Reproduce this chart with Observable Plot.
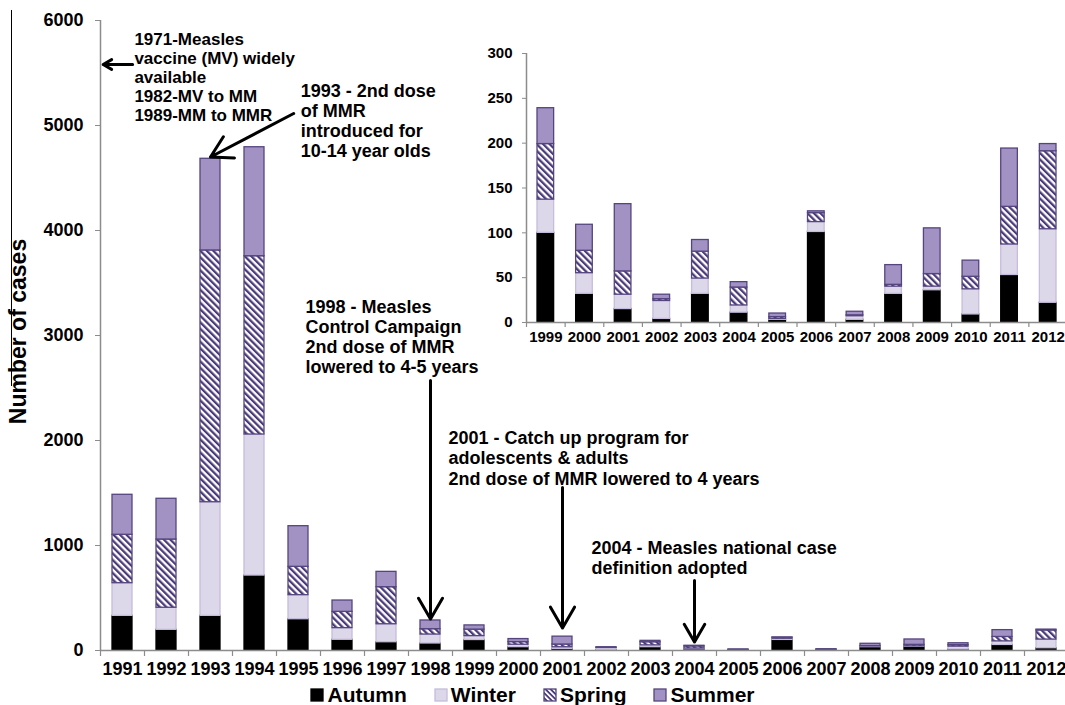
<!DOCTYPE html>
<html>
<head>
<meta charset="utf-8">
<script src="https://cdn.jsdelivr.net/npm/d3@7"></script>
<script src="https://cdn.jsdelivr.net/npm/@observablehq/plot@0.6"></script>
<style>
html, body { margin: 0; padding: 0; background: #fff; overflow: hidden; width: 1065px; height: 705px; }
#wrap { position: relative; width: 1065px; height: 705px; font-family: "Liberation Sans", Arial, sans-serif; }
#main { position: absolute; left: 0; top: 0; }
#inset { position: absolute; left: 470px; top: 40px; }
#edge { position: absolute; left: 11px; top: 10px; width: 1px; height: 376px; background: #000; }
#legend { position: absolute; left: 0; top: 682px; width: 1065px; display: flex; justify-content: center; gap: 27px;
  font-weight: bold; font-size: 21px; line-height: 26px; color: #000; }
#legend .item { display: flex; align-items: center; gap: 3px; }
#legend svg { display: block; }
</style>
</head>
<body>
<div id="wrap">
  <div id="edge"></div>
  <div id="main"></div>
  <div id="inset"></div>
  <div id="legend"></div>
</div>
<script>
// ---------- data ----------
const years   = [1991,1992,1993,1994,1995,1996,1997,1998,1999,2000,2001,2002,2003,2004,2005,2006,2007,2008,2009,2010,2011,2012];
const seasons = ["Autumn","Winter","Spring","Summer"];
const autumn  = [330,197,330,714,298,102,79,67,100,32,15,4,32,11,3,101,3,32,36,9,53,22];
const winter  = [311,210,1082,1343,229,111,171,85,37,23,16,20,17,8,1,11,4,8,4,28,34,82];
const spring  = [461,650,2398,1698,270,155,353,51,62,25,26,2,30,20,2,10,1,2,14,14,42,87];
const summer  = [381,388,873,1038,387,108,146,83,40,29,75,5,13,6,4,2,4,22,51,18,65,8];
const mainTicks  = [0,1000,2000,3000,4000,5000,6000];
const insetTicks = [0,50,100,150,200,250,300];
const insetYears = [1999,2000,2001,2002,2003,2004,2005,2006,2007,2008,2009,2010,2011,2012];
const yLabel = "Number of cases";
const noteTexts = [
  "1971-Measles\nvaccine (MV) widely\navailable\n1982-MV to MM\n1989-MM to MMR",
  "1993 - 2nd dose\nof MMR\nintroduced for\n10-14 year olds",
  "1998 - Measles\nControl Campaign\n2nd dose of MMR\nlowered to 4-5 years",
  "2001 - Catch up program for\nadolescents & adults\n2nd dose of MMR lowered to 4 years",
  "2004 - Measles national case\ndefinition adopted"
];

// ---------- build table ----------
const seriesBy = {Autumn: autumn, Winter: winter, Spring: spring, Summer: summer};
const table = years.flatMap((yr, i) => seasons.map(s => ({year: yr, season: s, value: seriesBy[s][i]})));

// ---------- styles ----------
const strokeOf = {Autumn: "#000000", Winter: "#c6bcdc", Spring: "#55457f", Summer: "#55457f"};
const fillOf = id => ({Autumn: "#000000", Winter: "#ddd7ea", Spring: `url(#${id})`, Summer: "#a292c3"});
const gray = "#8c8c8c";
const font = "'Liberation Sans', Arial, sans-serif";

function addHatch(svg, id) {
  const defs = d3.select(svg).insert("defs", ":first-child");
  const p = defs.append("pattern").attr("id", id).attr("patternUnits", "userSpaceOnUse")
    .attr("width", 4.6).attr("height", 4.6).attr("patternTransform", "rotate(-45)");
  p.append("rect").attr("width", 4.6).attr("height", 4.6).attr("fill", "#fff");
  p.append("rect").attr("width", 2.3).attr("height", 4.6).attr("fill", "#4a3a7a");
}

function bars(data, fills, inset) {
  return Plot.rectY(data, Plot.stackY({
    x1: d => d.year - 0.5, x2: d => d.year + 0.5, y: "value", z: "season",
    fill: d => fills[d.season], stroke: d => strokeOf[d.season],
    strokeWidth: 1.3,
    insetLeft: inset, insetRight: inset
  }));
}

// ---------- main chart ----------
const fillsMain = fillOf("hatchMain");
const boundaries = years.map(y => y - 0.5);
const notePos = [
  {x: 1991.27, y: 5462, size: 17}, {x: 1995.05, y: 5048, size: 18}, {x: 1995.16, y: 2990, size: 18},
  {x: 1998.41, y: 1833, size: 18}, {x: 2001.66, y: 886, size: 18}
];
const notes = noteTexts.map((t, i) => ({text: t, ...notePos[i]}));
const arrows = [
  {x1: 1991.23, y1: 5581, x2: 1990.56, y2: 5581},
  {x1: 1994.89, y1: 5114, x2: 1993, y2: 4700},
  {x1: 1998, y1: 2571, x2: 1998, y2: 300},
  {x1: 2001, y1: 1552, x2: 2001, y2: 215},
  {x1: 2004, y1: 667, x2: 2004, y2: 80}
];

const mainSvg = Plot.plot({
  width: 1068, height: 675,
  marginLeft: 100, marginRight: 0, marginTop: 20, marginBottom: 25,
  x: {domain: [1990.5, 2012.5], axis: null},
  y: {domain: [0, 6000], axis: null},
  color: {type: "identity"},
  style: {fontFamily: font, background: "transparent", overflow: "visible", maxWidth: "none"},
  marks: [
    bars(table, fillsMain, 12),
    Plot.ruleY([0], {stroke: gray, strokeWidth: 1.5}),
    Plot.ruleX([1990.5], {y1: 0, y2: 6000, stroke: gray, strokeWidth: 1.5}),
    Plot.ruleX(boundaries, {y1: 0, y2: 0, insetBottom: -6, stroke: gray, strokeWidth: 1.2}),
    Plot.axisY({ticks: mainTicks, tickFormat: d => String(d), tickSize: 5, tickPadding: 12,
      stroke: gray, fill: "#000", fontSize: 18, fontWeight: "bold", label: null}),
    Plot.axisX({ticks: years, tickFormat: d => String(d), tickSize: 0, tickPadding: 12,
      fill: "#000", fontSize: 18, fontWeight: "bold", label: null}),
    Plot.text([yLabel], {frameAnchor: "left", textAnchor: "middle", dx: -82, dy: -4, rotate: -90,
      fontSize: 23, fontWeight: "bold", fill: "#000"}),
    Plot.text(notes, {x: "x", y: "y", text: "text", textAnchor: "start", lineAnchor: "middle",
      fontSize: "size", fontWeight: "bold", lineHeight: 1.12, fill: "#000"}),
    Plot.arrow(arrows, {x1: "x1", y1: "y1", x2: "x2", y2: "y2", stroke: "#000", strokeWidth: 3, headLength: 12})
  ]
});
addHatch(mainSvg, "hatchMain");
document.getElementById("main").appendChild(mainSvg);

// ---------- inset chart ----------
const fillsInset = fillOf("hatchInset");
const insetTable = table.filter(d => d.year >= insetYears[0]);
const insetSvg = Plot.plot({
  width: 597, height: 320,
  marginLeft: 56, marginRight: 0, marginTop: 13, marginBottom: 38,
  x: {domain: [1998.5, 2012.5], axis: null},
  y: {domain: [0, 300], axis: null},
  color: {type: "identity"},
  style: {fontFamily: font, background: "transparent", overflow: "visible", maxWidth: "none"},
  marks: [
    bars(insetTable, fillsInset, 11),
    Plot.ruleY([0], {stroke: gray, strokeWidth: 1.5}),
    Plot.ruleX([1998.5], {y1: 0, y2: 300, stroke: gray, strokeWidth: 1.5}),
    Plot.ruleX(insetYears.map(y => y - 0.5), {y1: 0, y2: 0, insetBottom: -5, stroke: gray, strokeWidth: 1.2}),
    Plot.axisY({ticks: insetTicks, tickFormat: d => String(d), tickSize: 4, tickPadding: 10,
      stroke: gray, fill: "#000", fontSize: 15, fontWeight: "bold", label: null}),
    Plot.axisX({ticks: insetYears, tickFormat: d => String(d), tickSize: 0, tickPadding: 9,
      fill: "#000", fontSize: 15, fontWeight: "bold", label: null})
  ]
});
addHatch(insetSvg, "hatchInset");
document.getElementById("inset").appendChild(insetSvg);

// ---------- legend ----------
const legend = d3.select("#legend");
seasons.forEach((s) => {
  const item = legend.append("div").attr("class", "item");
  const sw = item.append("svg").attr("width", 14).attr("height", 14);
  if (s === "Spring") {
    const p = sw.append("defs").append("pattern").attr("id", "hatchLegend").attr("patternUnits", "userSpaceOnUse")
      .attr("width", 3.6).attr("height", 3.6).attr("patternTransform", "rotate(-45)");
    p.append("rect").attr("width", 3.6).attr("height", 3.6).attr("fill", "#fff");
    p.append("rect").attr("width", 1.8).attr("height", 3.6).attr("fill", "#4a3a7a");
  }
  sw.append("rect").attr("x", 1).attr("y", 1).attr("width", 12).attr("height", 12)
    .attr("fill", s === "Spring" ? "url(#hatchLegend)" : fillsMain[s])
    .attr("stroke", strokeOf[s]).attr("stroke-width", 1.3);
  item.append("span").text(s);
});
</script>
</body>
</html>
